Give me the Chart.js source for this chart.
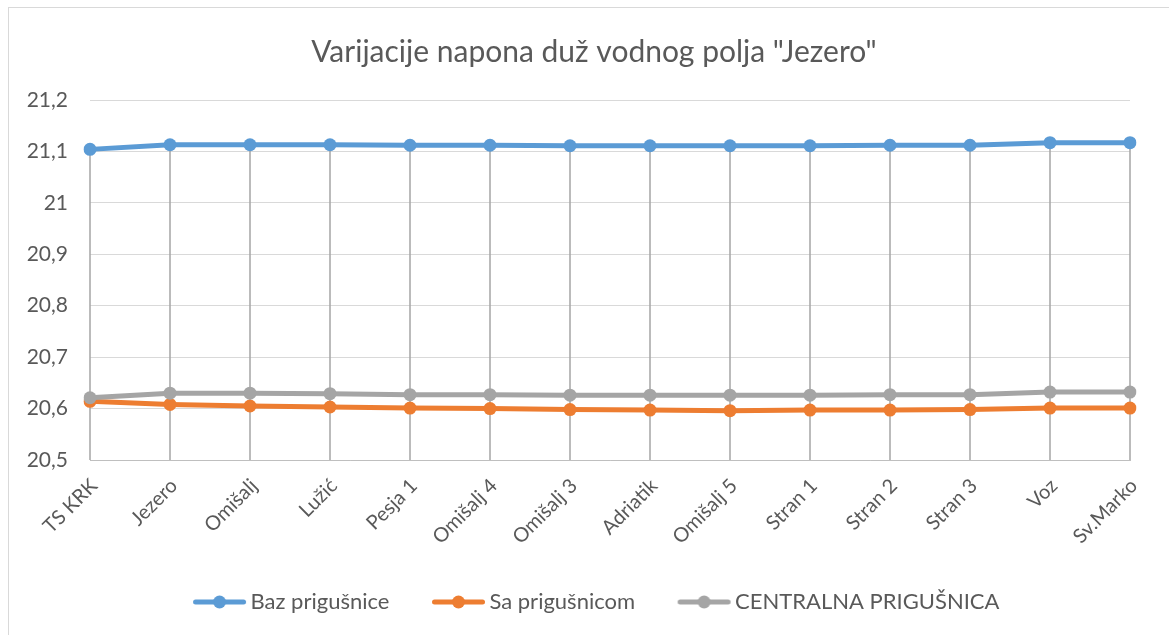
<!DOCTYPE html>
<html>
<head>
<meta charset="utf-8">
<script src="https://cdn.jsdelivr.net/npm/chart.js@4"></script>
<style>
  html, body { margin: 0; padding: 0; background: #fff; }
  #wrap { position: relative; width: 1169px; height: 635px; }
</style>
</head>
<body>
<div id="wrap"><canvas id="napon" width="1169" height="635"></canvas></div>
<script>
const naslov = 'Varijacije napona duž vodnog polja "Jezero"';
const stanice = ['TS KRK', 'Jezero', 'Omišalj', 'Lužić', 'Pesja 1', 'Omišalj 4', 'Omišalj 3',
    'Adriatik', 'Omišalj 5', 'Stran 1', 'Stran 2', 'Stran 3', 'Voz', 'Sv.Marko'];
const bezPrigusnice = [21.104, 21.113, 21.113, 21.113, 21.112, 21.112, 21.111,
    21.111, 21.111, 21.111, 21.112, 21.112, 21.117, 21.117];
const saPrigusnicom = [20.614, 20.608, 20.605, 20.603, 20.601, 20.600, 20.598,
    20.597, 20.596, 20.597, 20.597, 20.598, 20.601, 20.601];
const centralna = [20.621, 20.630, 20.630, 20.629, 20.627, 20.627, 20.626,
    20.626, 20.626, 20.626, 20.627, 20.627, 20.632, 20.632];
const yTicks = [20.5, 20.6, 20.7, 20.8, 20.9, 21, 21.1, 21.2];

const PLAVA = '#5B9BD5';
const NARANCASTA = '#ED7D31';
const SIVA = '#A5A5A5';
const TEKST = '#595959';
const FONT = 'Lato, "Open Sans", sans-serif';

// legend marker: line with a dot in the middle, like Excel.
// canvas is wider than the visible mark so that it sits right before the text
function marker(color) {
    const c = document.createElement('canvas');
    c.width = 138; c.height = 14;
    const g = c.getContext('2d');
    const x0 = 56.5;
    g.strokeStyle = color; g.lineWidth = 5; g.lineCap = 'round';
    g.beginPath(); g.moveTo(x0 + 3, 7); g.lineTo(x0 + 51, 7); g.stroke();
    g.fillStyle = color;
    g.beginPath(); g.arc(x0 + 27, 7, 6.5, 0, Math.PI * 2); g.fill();
    return c;
}

const dropLines = {
    id: 'dropLines',
    beforeDatasetsDraw(chart) {
        const { ctx, chartArea } = chart;
        const metas = chart.data.datasets.map((d, i) => chart.getDatasetMeta(i));
        ctx.save();
        ctx.strokeStyle = SIVA;
        ctx.lineWidth = 1.5;
        for (let j = 0; j < chart.data.labels.length; j++) {
            let top = Infinity, x = 0;
            metas.forEach(m => {
                const p = m.data[j];
                if (p && p.y < top) { top = p.y; x = p.x; }
            });
            ctx.beginPath();
            ctx.moveTo(x, top);
            ctx.lineTo(x, chartArea.bottom);
            ctx.stroke();
        }
        ctx.restore();
    }
};

// outer frame + title centred on the (cropped) Excel chart box
const okvir = {
    id: 'okvir',
    afterLayout(chart) {
        // Excel centres the legend on the whole chart box, which is wider than the canvas
        if (chart.legend) {
            chart.legend.left += 10;
            chart.legend.right += 10;
        }
    },
    beforeDraw(chart) {
        const ctx = chart.ctx;
        ctx.save();
        ctx.strokeStyle = '#D9D9D9';
        ctx.lineWidth = 1;
        ctx.strokeRect(8.5, 7.5, 1200, 700);
        ctx.restore();
    },
    afterDraw(chart) {
        const ctx = chart.ctx;
        ctx.save();
        ctx.fillStyle = TEKST;
        ctx.font = '30px ' + FONT;
        ctx.textAlign = 'center';
        ctx.textBaseline = 'alphabetic';
        ctx.fillText(naslov, 594, 62);
        ctx.restore();
    }
};

function serija(label, data, color, order) {
    return {
        label: label,
        data: data,
        borderColor: color,
        backgroundColor: color,
        pointBackgroundColor: color,
        pointBorderColor: color,
        borderWidth: 5,
        pointRadius: 6.5,
        pointBorderWidth: 0,
        tension: 0,
        order: order,
        pointStyle: 'circle',
        legendMarker: marker(color)
    };
}

new Chart(document.getElementById('napon'), {
    type: 'line',
    data: {
        labels: stanice,
        datasets: [
            serija('Baz prigušnice', bezPrigusnice, PLAVA, 2),
            serija('Sa prigušnicom', saPrigusnicom, NARANCASTA, 1),
            serija('CENTRALNA PRIGUŠNICA', centralna, SIVA, 0)
        ]
    },
    options: {
        responsive: false,
        animation: false,
        layout: { padding: { left: 20, right: 39, top: 100, bottom: 12 } },
        plugins: {
            title: { display: false },
            legend: {
                position: 'bottom',
                labels: {
                    usePointStyle: true,
                    pointStyleWidth: 69,
                    boxHeight: 14,
                    padding: 20,
                    color: TEKST,
                    font: { family: FONT, size: 22 },
                    sort: (a, b) => a.datasetIndex - b.datasetIndex,
                    generateLabels(chart) {
                        return chart.data.datasets.map((d, i) => ({
                            text: d.label,
                            fillStyle: d.borderColor,
                            strokeStyle: d.borderColor,
                            lineWidth: 0,
                            pointStyle: d.legendMarker,
                            fontColor: TEKST,
                            hidden: false,
                            datasetIndex: i
                        }));
                    }
                }
            },
            tooltip: { enabled: false }
        },
        scales: {
            x: {
                offset: false,
                grid: { display: false },
                border: { display: true, color: '#BFBFBF', width: 1 },
                ticks: {
                    autoSkip: false,
                    maxRotation: 45,
                    minRotation: 45,
                    color: TEKST,
                    font: { family: FONT, size: 20 },
                    padding: 6,
                    labelOffset: 4
                },
                afterFit(scale) { scale.height = 111; }
            },
            y: {
                min: 20.5,
                max: 21.2,
                afterBuildTicks(scale) {
                    scale.ticks = yTicks.map(v => ({ value: v }));
                },
                grid: { color: '#D9D9D9', lineWidth: 1, drawTicks: false },
                border: { display: false },
                ticks: {
                    color: TEKST,
                    font: { family: FONT, size: 21 },
                    padding: 22,
                    callback: v => String(Math.round(v * 10) / 10).replace('.', ',')
                },
                afterFit(scale) { scale.width = 70; }
            }
        }
    },
    plugins: [dropLines, okvir]
});
</script>
</body>
</html>
